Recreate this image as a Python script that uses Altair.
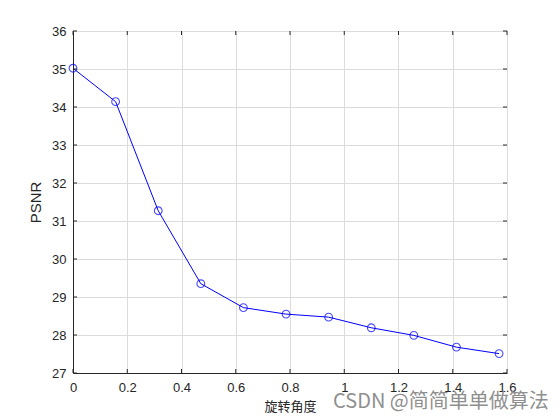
import altair as alt
import pandas as pd

angles = [0, 0.1571, 0.3142, 0.4712, 0.6283, 0.7854, 0.9425, 1.0996, 1.2566, 1.4137, 1.5708]
psnr = [35.02, 34.14, 31.27, 29.35, 28.72, 28.55, 28.47, 28.19, 27.99, 27.68, 27.51]
x_ticks = [0, 0.2, 0.4, 0.6, 0.8, 1.0, 1.2, 1.4, 1.6]
y_ticks = [27, 28, 29, 30, 31, 32, 33, 34, 35, 36]
x_label = "旋转角度"
y_label = "PSNR"
watermark = "CSDN @简简单单做算法"

W, H = 434, 342
df = pd.DataFrame({"x": angles, "y": psnr})
dfx = pd.DataFrame({"t": x_ticks})
dfy = pd.DataFrame({"t": y_ticks})

xs = alt.Scale(domain=[0, 1.6], nice=False, zero=False)
ys = alt.Scale(domain=[27, 36], nice=False, zero=False)

axis_common = dict(
    grid=True, gridColor="#dcdcdc", gridWidth=1,
    ticks=False, domainColor="#262626", domainWidth=1,
    labelColor="#262626", labelFont="Liberation Sans", labelFontSize=13,
    labelOverlap=False, labelFlush=False,
    titleFontWeight="normal", titleColor="#262626",
)
ax_x = alt.Axis(values=x_ticks, format="~g", title=x_label, titleFontSize=13,
                titleFont="Noto Sans CJK SC", labelPadding=8, titlePadding=6, **axis_common)
ax_y = alt.Axis(values=y_ticks, format="d", title=y_label, titleFontSize=15,
                titleFont="Liberation Sans", labelPadding=7, titlePadding=8, **axis_common)

line = alt.Chart(df).mark_line(color="#0000ff", strokeWidth=1).encode(
    x=alt.X("x:Q", scale=xs, axis=ax_x),
    y=alt.Y("y:Q", scale=ys, axis=ax_y),
)
pts = alt.Chart(df).mark_point(shape="circle", filled=False, color="#0000ff", size=60, strokeWidth=1.1).encode(
    x=alt.X("x:Q", scale=xs, axis=ax_x), y=alt.Y("y:Q", scale=ys, axis=ax_y)
)

tick_len = 4
tb = alt.Chart(dfx).mark_rule(color="#262626", strokeWidth=1).encode(
    x=alt.X("t:Q", scale=xs, axis=ax_x), y=alt.value(H), y2=alt.value(H - tick_len))
tt = alt.Chart(dfx).mark_rule(color="#262626", strokeWidth=1).encode(
    x=alt.X("t:Q", scale=xs, axis=ax_x), y=alt.value(0), y2=alt.value(tick_len))
tl = alt.Chart(dfy).mark_rule(color="#262626", strokeWidth=1).encode(
    y=alt.Y("t:Q", scale=ys, axis=ax_y), x=alt.value(0), x2=alt.value(tick_len))
tr = alt.Chart(dfy).mark_rule(color="#262626", strokeWidth=1).encode(
    y=alt.Y("t:Q", scale=ys, axis=ax_y), x=alt.value(W), x2=alt.value(W - tick_len))

wm = alt.Chart(pd.DataFrame({"s": [watermark]})).mark_text(
    font="Noto Sans CJK SC", fontSize=20, color="#8f8f8f", align="left", baseline="middle"
).encode(text="s:N", x=alt.value(260), y=alt.value(371))

chart = alt.layer(line, pts, tb, tt, tl, tr, wm).properties(
    width=W, height=H,
    autosize=alt.AutoSizeParams(type="none"),
    padding={"left": 65, "top": 23, "right": 45, "bottom": 40},
).configure_view(stroke="#262626", strokeWidth=1).configure(background="white")

chart.save("out.html", embed_options={"renderer": "svg", "actions": False})
